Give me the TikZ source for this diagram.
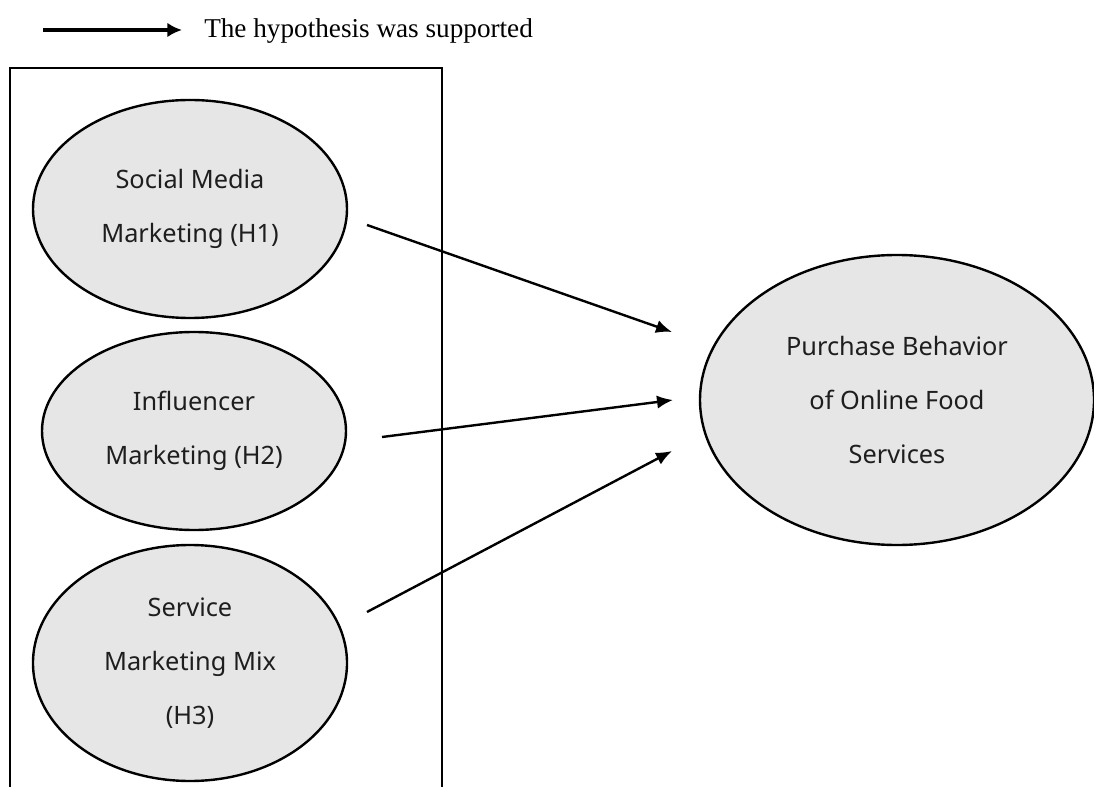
\documentclass[tikz,border=0pt]{standalone}
\usepackage{fontspec}
\setmainfont{Liberation Serif}
\newfontfamily\elfont{Noto Sans}
\usetikzlibrary{shapes.geometric,arrows.meta}
\definecolor{ellfill}{RGB}{230,230,230}
\definecolor{eltext}{RGB}{30,30,30}
\tikzset{
  ell/.style={ellipse, draw=black, line width=1.8pt, fill=ellfill, inner sep=0pt,
    align=center, text=eltext, font=\elfont\fontsize{19}{40.5}\selectfont},
  conn/.style={line width=1.8pt, -{Latex[length=12pt,width=10pt]}},
  frame/.style={line width=1.8pt}
}
\begin{document}
\begin{tikzpicture}[x=0.75pt,y=-0.75pt]
\useasboundingbox (0,0) rectangle (1094,787);
\begin{scope}
\clip (0,0) rectangle (1094,787);
\draw[frame] (10,800) -- (10,68) -- (442,68) -- (442,800);
\end{scope}
% legend
\coordinate (l1) at (43,30);
\coordinate (l2) at (182,30);
\draw[line width=2.5pt, -{Latex[length=11pt,width=11pt]}] (l1) -- (l2);
\node[anchor=base west, inner sep=0pt, font=\fontsize{20.4}{24}\selectfont] (legend) at (204,38) {The hypothesis was supported};
% ellipses
\node[ell, minimum width=235.5pt, minimum height=163.5pt] (h1) at (190,209) {Social Media\\Marketing (H1)};
\node[ell, minimum width=228pt, minimum height=148.5pt] (h2) at (194,431) {Influencer\\Marketing (H2)};
\node[ell, minimum width=235.5pt, minimum height=177pt] (h3) at (190,663) {Service\\Marketing Mix\\(H3)};
\node[ell, minimum width=295.5pt, minimum height=217.5pt] (y) at (897,400) {Purchase Behavior\\of Online Food\\Services};
% connectors
\coordinate (a1s) at (367,225);
\coordinate (a1e) at (672,332);
\coordinate (a2s) at (382,437);
\coordinate (a2e) at (673,400);
\coordinate (a3s) at (367,612);
\coordinate (a3e) at (672,451);
\draw[conn] (a1s) -- (a1e);
\draw[conn] (a2s) -- (a2e);
\draw[conn] (a3s) -- (a3e);
\end{tikzpicture}
\end{document}
